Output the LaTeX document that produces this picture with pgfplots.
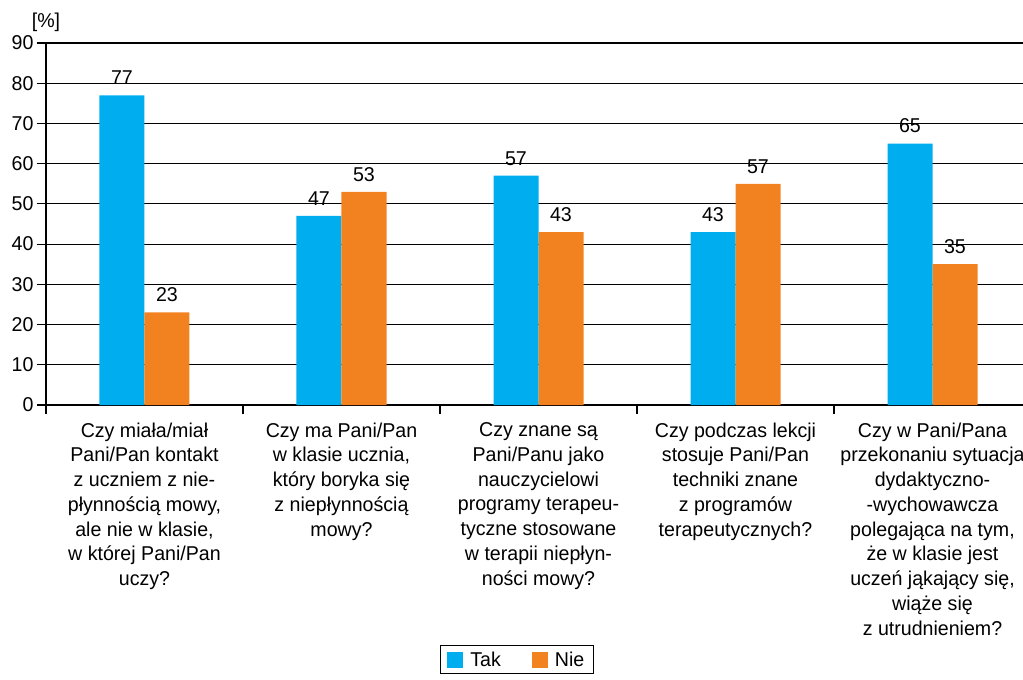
\documentclass[border=0pt]{standalone}
\usepackage{pgfplots}
\pgfplotsset{compat=1.18}
\usepackage{fontspec}
\setmainfont{Liberation Sans}[FakeStretch=0.98]
\definecolor{tak}{RGB}{0,174,239}
\definecolor{nie}{RGB}{242,130,32}
\begin{document}
\begin{tikzpicture}
\begin{axis}[
  scale only axis, width=985pt, height=362pt,
  xmin=-0.5, xmax=4.5, ymin=0, ymax=90,
  axis x line=bottom, axis y line=left,
  axis line style={-, line width=1.5pt, black},
  ytick={0,10,...,90}, ymajorgrids, grid style={black, line width=1.2pt},
  xtick={-0.5,0.5,1.5,2.5,3.5}, xticklabels={},
  extra x ticks={0,1,2,3,4},
  extra x tick labels={
    {Czy miała/miał\\Pani/Pan kontakt\\z uczniem z nie-\\płynnością mowy,\\ale nie w klasie,\\w której Pani/Pan\\uczy?},
    {Czy ma Pani/Pan\\w klasie ucznia,\\który boryka się\\z niepłynnością\\mowy?},
    {Czy znane są\\Pani/Panu jako\\nauczycielowi\\programy terapeu-\\tyczne stosowane\\w terapii niepłyn-\\ności mowy?},
    {Czy podczas lekcji\\stosuje Pani/Pan\\techniki znane\\z programów\\terapeutycznych?},
    {Czy w Pani/Pana\\przekonaniu sytuacja\\dydaktyczno-\\-wychowawcza\\polegająca na tym,\\że w klasie jest\\uczeń jąkający się,\\wiąże się\\z utrudnieniem?}},
  extra x tick style={major tick length=0pt},
  xticklabel style={font=\fontsize{20}{24.75}\selectfont, align=center, anchor=north, yshift=-14pt},
  tick align=outside, major tick length=9pt, tick style={black, line width=1.2pt},
  yticklabel style={font=\fontsize{20}{20}\selectfont},
  /pgf/number format/assume math mode=true,
  ybar=0pt, bar width=45pt,
  nodes near coords, point meta=explicit symbolic,
  every node near coord/.append style={font=\fontsize{20}{20}\selectfont, black, yshift=7pt},
  legend style={at={(0.478,-0.663)}, anchor=north, legend columns=2, draw=black, line width=1.2pt,
    font=\fontsize{20}{20}\selectfont, inner xsep=7pt, inner ysep=4pt,
    /tikz/every odd column/.append style={column sep=5pt},
    /tikz/every even column/.append style={column sep=29pt}},
  legend image code/.code={\fill[#1, draw=none] (0pt,-8pt) rectangle (16pt,8pt);},
]
\addplot[fill=tak, draw=none] coordinates {(0,77) [77] (1,47) [47] (2,57) [57] (3,43) [43] (4,65) [65]};
\addplot[fill=nie, draw=none] coordinates {(0,23) [23] (1,53) [53] (2,43) [43] (3,55) [57] (4,35) [35]};
\legend{Tak, Nie}
\end{axis}
\node[font=\fontsize{20}{20}\selectfont] at (0pt,383pt) {[\%]};
\pgfresetboundingbox
\path (-46pt,-275pt) rectangle (977pt,405pt);
\end{tikzpicture}
\end{document}
